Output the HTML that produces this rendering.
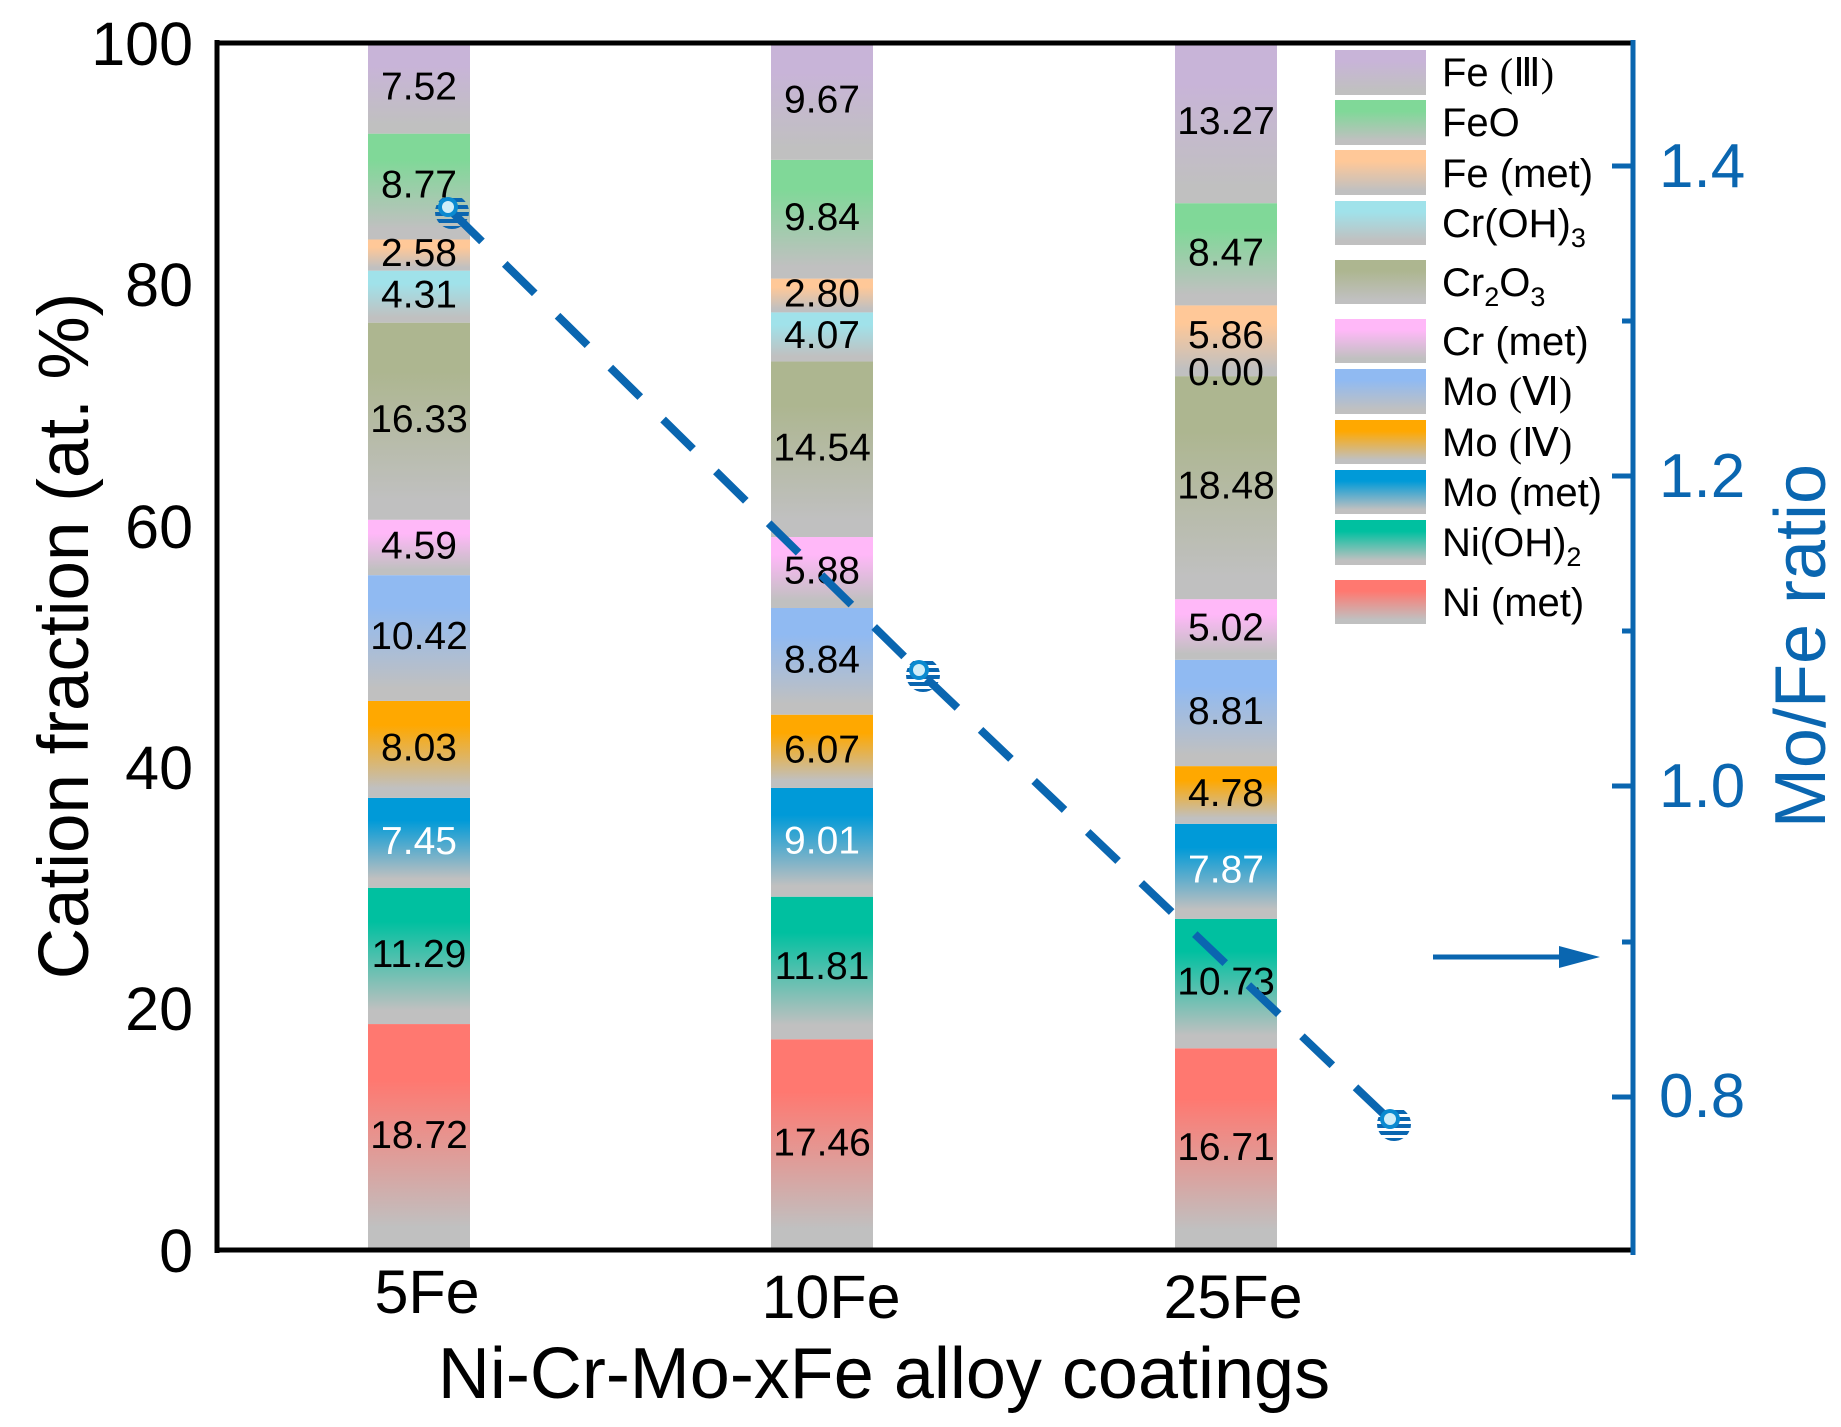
<!DOCTYPE html>
<html><head><meta charset="utf-8"><style>
html,body{margin:0;padding:0;background:#fff;}
svg{display:block;font-family:"Liberation Sans",Arial,sans-serif;}
</style></head><body>
<svg width="1841" height="1427" viewBox="0 0 1841 1427" xmlns="http://www.w3.org/2000/svg">
<defs>
<linearGradient id="g0" x1="0" y1="0" x2="0" y2="1"><stop offset="0" stop-color="#c8b4d8"/><stop offset="0.25" stop-color="#c8b4d8"/><stop offset="0.9" stop-color="#c0c0c0"/></linearGradient>
<linearGradient id="g1" x1="0" y1="0" x2="0" y2="1"><stop offset="0" stop-color="#80d898"/><stop offset="0.25" stop-color="#80d898"/><stop offset="0.9" stop-color="#c0c0c0"/></linearGradient>
<linearGradient id="g2" x1="0" y1="0" x2="0" y2="1"><stop offset="0" stop-color="#ffc898"/><stop offset="0.25" stop-color="#ffc898"/><stop offset="0.9" stop-color="#c0c0c0"/></linearGradient>
<linearGradient id="g3" x1="0" y1="0" x2="0" y2="1"><stop offset="0" stop-color="#a0e2ea"/><stop offset="0.25" stop-color="#a0e2ea"/><stop offset="0.9" stop-color="#c0c0c0"/></linearGradient>
<linearGradient id="g4" x1="0" y1="0" x2="0" y2="1"><stop offset="0" stop-color="#adb690"/><stop offset="0.25" stop-color="#adb690"/><stop offset="0.9" stop-color="#c0c0c0"/></linearGradient>
<linearGradient id="g5" x1="0" y1="0" x2="0" y2="1"><stop offset="0" stop-color="#ffb8f8"/><stop offset="0.25" stop-color="#ffb8f8"/><stop offset="0.9" stop-color="#c0c0c0"/></linearGradient>
<linearGradient id="g6" x1="0" y1="0" x2="0" y2="1"><stop offset="0" stop-color="#90baf2"/><stop offset="0.25" stop-color="#90baf2"/><stop offset="0.9" stop-color="#c0c0c0"/></linearGradient>
<linearGradient id="g7" x1="0" y1="0" x2="0" y2="1"><stop offset="0" stop-color="#ffa800"/><stop offset="0.25" stop-color="#ffa800"/><stop offset="0.9" stop-color="#c0c0c0"/></linearGradient>
<linearGradient id="g8" x1="0" y1="0" x2="0" y2="1"><stop offset="0" stop-color="#009ad8"/><stop offset="0.25" stop-color="#009ad8"/><stop offset="0.9" stop-color="#c0c0c0"/></linearGradient>
<linearGradient id="g9" x1="0" y1="0" x2="0" y2="1"><stop offset="0" stop-color="#00c0a0"/><stop offset="0.25" stop-color="#00c0a0"/><stop offset="0.9" stop-color="#c0c0c0"/></linearGradient>
<linearGradient id="g10" x1="0" y1="0" x2="0" y2="1"><stop offset="0" stop-color="#ff7870"/><stop offset="0.25" stop-color="#ff7870"/><stop offset="0.9" stop-color="#c0c0c0"/></linearGradient>
<pattern id="stripes" width="40" height="7" patternUnits="userSpaceOnUse"><rect width="40" height="4" fill="#0a66b0"/></pattern>
<g id="mk"><circle r="17" fill="url(#stripes)"/><circle cx="-4" cy="-5" r="10" fill="#0a8ad0"/><circle cx="-4" cy="-5" r="6" fill="#d0eef8"/></g>
</defs>

<g id="bars"></g>
<script>
(function(){
var data=[[18.72,11.29,7.45,8.03,10.42,4.59,16.33,4.31,2.58,8.77,7.52],
[17.46,11.81,9.01,6.07,8.84,5.88,14.54,4.07,2.80,9.84,9.67],
[16.71,10.73,7.87,4.78,8.81,5.02,18.48,0.00,5.86,8.47,13.27]];
var xs=[368,771,1175];
var ns="http://www.w3.org/2000/svg";
var g=document.getElementById("bars");
var y0=1250, k=12.07;
for(var b=0;b<3;b++){
 var cum=0;
 for(var i=0;i<11;i++){
  var v=data[b][i];
  var yb=y0-cum*k, yt=y0-(cum+v)*k; if(i==10)yt=43;
  if(v>0){var r=document.createElementNS(ns,"rect");
  r.setAttribute("x",xs[b]);r.setAttribute("y",yt);r.setAttribute("width",102);r.setAttribute("height",yb-yt);
  r.setAttribute("fill","url(#g"+(10-i)+")");g.appendChild(r);}
  cum+=v;
 }
}
for(b=0;b<3;b++){
 cum=0;
 for(i=0;i<11;i++){
  v=data[b][i];
  var yc=y0-(cum+v/2)*k;
  if(b==2&&i==7)yc=374;
  if(b==2&&i==8)yc=337;
  var t=document.createElementNS(ns,"text");
  t.setAttribute("x",xs[b]+51);t.setAttribute("y",yc+11);t.setAttribute("text-anchor","middle");
  t.setAttribute("font-size","39");t.setAttribute("fill",i==2?"#ffffff":"#000");
  t.textContent=v.toFixed(2);g.appendChild(t);
  cum+=v;
 }
}
})();
</script>

<line x1="217" y1="40" x2="217" y2="1253" stroke="#000" stroke-width="5"/>
<line x1="215" y1="43" x2="1633" y2="43" stroke="#000" stroke-width="5"/>
<line x1="215" y1="1250" x2="1633" y2="1250" stroke="#000" stroke-width="5"/>
<line x1="1633" y1="40" x2="1633" y2="1255" stroke="#0a66b0" stroke-width="5"/>
<g stroke="#0a66b0" stroke-width="5">
<line x1="1612" y1="166" x2="1633" y2="166"/><line x1="1612" y1="476" x2="1633" y2="476"/>
<line x1="1612" y1="786" x2="1633" y2="786"/><line x1="1612" y1="1097" x2="1633" y2="1097"/>
<line x1="1622" y1="321" x2="1633" y2="321"/><line x1="1622" y1="631" x2="1633" y2="631"/>
<line x1="1622" y1="942" x2="1633" y2="942"/>
</g>

<g font-size="61" text-anchor="end" fill="#000">
<text x="193" y="1272">0</text>
<text x="193" y="1030">20</text>
<text x="193" y="789">40</text>
<text x="193" y="548">60</text>
<text x="193" y="306">80</text>
<text x="193" y="65">100</text>
</g>
<g font-size="62" fill="#0a66b0">
<text x="1659" y="187">1.4</text>
<text x="1659" y="497">1.2</text>
<text x="1659" y="807">1.0</text>
<text x="1659" y="1117">0.8</text>
</g>
<g font-size="61" text-anchor="middle" fill="#000">
<text x="427" y="1313">5Fe</text>
<text x="831" y="1318">10Fe</text>
<text x="1233" y="1318">25Fe</text>
</g>
<text x="884" y="1398" font-size="72" text-anchor="middle">Ni-Cr-Mo-xFe alloy coatings</text>
<text transform="translate(88,636) rotate(-90)" font-size="71" text-anchor="middle">Cation fraction (at. %)</text>
<text transform="translate(1825,646) rotate(-90)" font-size="72" text-anchor="middle" fill="#0a66b0">Mo/Fe ratio</text>

<polyline points="452,212 923,675 1394,1124" fill="none" stroke="#0a66b0" stroke-width="8" stroke-dasharray="42,32"/>
<use href="#mk" x="452" y="212"/>
<use href="#mk" x="923" y="675"/>
<use href="#mk" x="1394" y="1124"/>

<line x1="1433" y1="957" x2="1565" y2="957" stroke="#0a66b0" stroke-width="5"/>
<polygon points="1559,946 1600,957 1559,968" fill="#0a66b0"/>

<g font-size="40" fill="#000">
<rect x="1335" y="50" width="91" height="45" fill="url(#g0)"/><text x="1442" y="86">Fe <tspan font-family="Liberation Serif">(Ⅲ)</tspan></text>
<rect x="1335" y="100" width="91" height="45" fill="url(#g1)"/><text x="1442" y="136">FeO</text>
<rect x="1335" y="150" width="91" height="45" fill="url(#g2)"/><text x="1442" y="187">Fe (met)</text>
<rect x="1335" y="201" width="91" height="44" fill="url(#g3)"/><text x="1442" y="237">Cr(OH)<tspan font-size="27" dy="10">3</tspan></text>
<rect x="1335" y="260" width="91" height="44" fill="url(#g4)"/><text x="1442" y="296">Cr<tspan font-size="27" dy="10">2</tspan><tspan dy="-10">O</tspan><tspan font-size="27" dy="10">3</tspan></text>
<rect x="1335" y="319" width="91" height="44" fill="url(#g5)"/><text x="1442" y="355">Cr (met)</text>
<rect x="1335" y="369" width="91" height="45" fill="url(#g6)"/><text x="1442" y="405">Mo <tspan font-family="Liberation Serif">(Ⅵ)</tspan></text>
<rect x="1335" y="420" width="91" height="44" fill="url(#g7)"/><text x="1442" y="456">Mo <tspan font-family="Liberation Serif">(Ⅳ)</tspan></text>
<rect x="1335" y="470" width="91" height="44" fill="url(#g8)"/><text x="1442" y="506">Mo (met)</text>
<rect x="1335" y="520" width="91" height="45" fill="url(#g9)"/><text x="1442" y="556">Ni(OH)<tspan font-size="27" dy="10">2</tspan></text>
<rect x="1335" y="580" width="91" height="44" fill="url(#g10)"/><text x="1442" y="616">Ni (met)</text>
</g>
</svg>
</body></html>
